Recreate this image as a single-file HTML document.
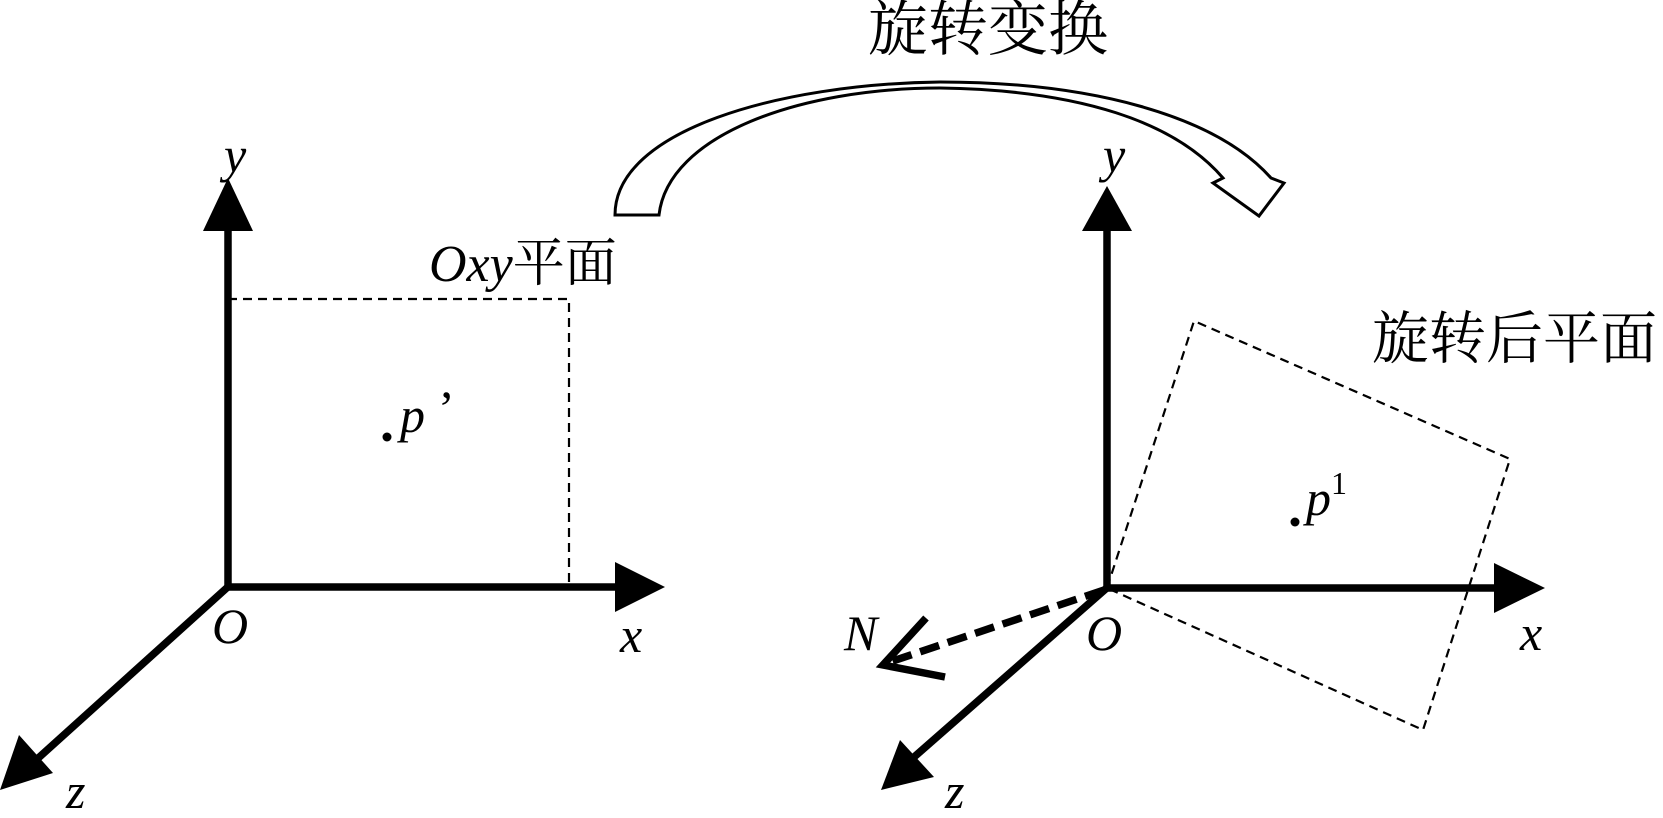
<!DOCTYPE html>
<html><head><meta charset="utf-8"><style>
html,body{margin:0;padding:0;background:#fff;}
svg{display:block;}
text{font-family:"Liberation Serif","Noto Serif CJK SC",serif;fill:#000;}
.it{font-style:italic;font-family:"Liberation Serif",serif;}
</style></head><body>
<svg width="1663" height="818" viewBox="0 0 1663 818" xmlns="http://www.w3.org/2000/svg">
<path d="M615,215 C615,130 780,84 940,82 C1090,82 1215,115 1271,178 L1284,183 L1259,216 L1213,183 L1223,178 C1175,122 1080,90 940,88 C800,88 668,135 659,215 Z" fill="#fff" stroke="#000" stroke-width="3" stroke-linejoin="miter"/>
<text x="868" y="50" font-size="60">旋转变换</text>

<g stroke="#000" fill="none">
<path d="M228,299 H569 V587" stroke-width="2.2" stroke-dasharray="9,6"/>
<line x1="228" y1="587" x2="228" y2="225" stroke-width="7.5"/>
<line x1="225" y1="587" x2="620" y2="587" stroke-width="7.5"/>
<line x1="230" y1="585" x2="25" y2="770" stroke-width="7.5"/>
</g>
<polygon points="228,178 253,231 203,231" fill="#000"/>
<polygon points="665,587 615,562 615,612" fill="#000"/>
<polygon points="0,790 19,735 53,773" fill="#000"/>
<circle cx="387" cy="437" r="4.5" fill="#000"/>
<text class="it" x="400" y="432" font-size="50">p</text>
<text x="438" y="425" font-size="50">’</text>
<text class="it" x="224" y="172" font-size="50">y</text>
<text class="it" x="212" y="643" font-size="50">O</text>
<text class="it" x="620" y="652" font-size="50">x</text>
<text class="it" x="66" y="808" font-size="50">z</text>
<text x="429" y="281" font-size="52"><tspan class="it">Oxy</tspan>平面</text>

<g stroke="#000" fill="none">
<path d="M1107,588 L1194,321 L1510,459 L1423,730 Z" stroke-width="2.2" stroke-dasharray="9,6"/>
<line x1="1107" y1="588" x2="1107" y2="228" stroke-width="7.5"/>
<line x1="1104" y1="588" x2="1500" y2="588" stroke-width="7.5"/>
<line x1="1109" y1="586" x2="905" y2="765" stroke-width="7.5"/>
<line x1="1104" y1="590" x2="890" y2="662" stroke-width="7.5" stroke-dasharray="20,9"/>
<polyline points="926,618 883,665 945,677" stroke-width="7.5"/>
</g>
<polygon points="1107,186 1132,231 1082,231" fill="#000"/>
<polygon points="1545,588 1494,563 1494,613" fill="#000"/>
<polygon points="881,790 900,740 934,777" fill="#000"/>
<circle cx="1295" cy="522" r="4.5" fill="#000"/>
<text class="it" x="1306" y="515" font-size="50">p</text>
<text x="1331" y="494" font-size="32">1</text>
<text class="it" x="1103" y="172" font-size="50">y</text>
<text class="it" x="844" y="650" font-size="50">N</text>
<text class="it" x="1086" y="650" font-size="50">O</text>
<text class="it" x="1520" y="650" font-size="50">x</text>
<text class="it" x="945" y="808" font-size="50">z</text>
<text x="1372" y="358" font-size="57">旋转后平面</text>
</svg>
</body></html>
